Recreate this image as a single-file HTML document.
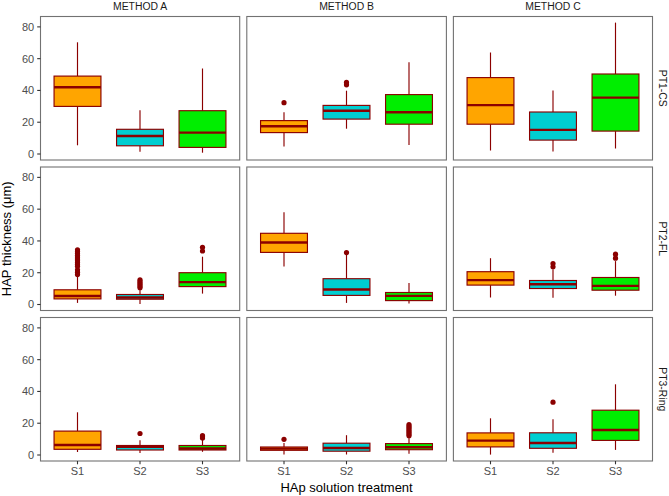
<!DOCTYPE html>
<html><head><meta charset="utf-8"><title>HAP thickness boxplots</title>
<style>html,body{margin:0;padding:0;background:#fff;overflow:hidden}svg{display:block}text{font-family:"Liberation Sans",sans-serif}</style>
</head><body>
<svg width="669" height="496" viewBox="0 0 669 496">
<rect x="0" y="0" width="669" height="496" fill="#fff"/>
<line x1="77.50" y1="42.30" x2="77.50" y2="76.10" stroke="#8B0000" stroke-width="1.15"/>
<line x1="77.50" y1="106.40" x2="77.50" y2="145.30" stroke="#8B0000" stroke-width="1.15"/>
<rect x="54.06" y="76.10" width="46.88" height="30.30" fill="#FFA500" stroke="#8B0000" stroke-width="1.15"/>
<line x1="54.06" y1="87.20" x2="100.94" y2="87.20" stroke="#8B0000" stroke-width="2.4"/>
<line x1="140.00" y1="110.20" x2="140.00" y2="129.30" stroke="#8B0000" stroke-width="1.15"/>
<line x1="140.00" y1="145.80" x2="140.00" y2="151.80" stroke="#8B0000" stroke-width="1.15"/>
<rect x="116.56" y="129.30" width="46.88" height="16.50" fill="#00CED1" stroke="#8B0000" stroke-width="1.15"/>
<line x1="116.56" y1="136.00" x2="163.44" y2="136.00" stroke="#8B0000" stroke-width="2.4"/>
<line x1="202.50" y1="68.50" x2="202.50" y2="110.70" stroke="#8B0000" stroke-width="1.15"/>
<line x1="202.50" y1="147.40" x2="202.50" y2="152.70" stroke="#8B0000" stroke-width="1.15"/>
<rect x="179.06" y="110.70" width="46.88" height="36.70" fill="#00EE00" stroke="#8B0000" stroke-width="1.15"/>
<line x1="179.06" y1="132.60" x2="225.94" y2="132.60" stroke="#8B0000" stroke-width="2.4"/>
<line x1="284.00" y1="112.30" x2="284.00" y2="120.60" stroke="#8B0000" stroke-width="1.15"/>
<line x1="284.00" y1="132.60" x2="284.00" y2="146.60" stroke="#8B0000" stroke-width="1.15"/>
<rect x="260.56" y="120.60" width="46.88" height="12.00" fill="#FFA500" stroke="#8B0000" stroke-width="1.15"/>
<line x1="260.56" y1="126.30" x2="307.44" y2="126.30" stroke="#8B0000" stroke-width="2.4"/>
<circle cx="284.00" cy="102.70" r="2.6" fill="#8B0000"/>
<line x1="346.50" y1="90.70" x2="346.50" y2="105.40" stroke="#8B0000" stroke-width="1.15"/>
<line x1="346.50" y1="119.10" x2="346.50" y2="128.70" stroke="#8B0000" stroke-width="1.15"/>
<rect x="323.06" y="105.40" width="46.88" height="13.70" fill="#00CED1" stroke="#8B0000" stroke-width="1.15"/>
<line x1="323.06" y1="110.80" x2="369.94" y2="110.80" stroke="#8B0000" stroke-width="2.4"/>
<circle cx="346.50" cy="82.40" r="2.6" fill="#8B0000"/>
<circle cx="346.50" cy="84.80" r="2.6" fill="#8B0000"/>
<line x1="409.00" y1="62.30" x2="409.00" y2="94.60" stroke="#8B0000" stroke-width="1.15"/>
<line x1="409.00" y1="124.20" x2="409.00" y2="145.10" stroke="#8B0000" stroke-width="1.15"/>
<rect x="385.56" y="94.60" width="46.88" height="29.60" fill="#00EE00" stroke="#8B0000" stroke-width="1.15"/>
<line x1="385.56" y1="112.30" x2="432.44" y2="112.30" stroke="#8B0000" stroke-width="2.4"/>
<line x1="490.50" y1="52.50" x2="490.50" y2="77.60" stroke="#8B0000" stroke-width="1.15"/>
<line x1="490.50" y1="124.20" x2="490.50" y2="150.50" stroke="#8B0000" stroke-width="1.15"/>
<rect x="467.06" y="77.60" width="46.88" height="46.60" fill="#FFA500" stroke="#8B0000" stroke-width="1.15"/>
<line x1="467.06" y1="105.10" x2="513.94" y2="105.10" stroke="#8B0000" stroke-width="2.4"/>
<line x1="553.00" y1="90.40" x2="553.00" y2="112.00" stroke="#8B0000" stroke-width="1.15"/>
<line x1="553.00" y1="140.10" x2="553.00" y2="151.40" stroke="#8B0000" stroke-width="1.15"/>
<rect x="529.56" y="112.00" width="46.88" height="28.10" fill="#00CED1" stroke="#8B0000" stroke-width="1.15"/>
<line x1="529.56" y1="129.90" x2="576.44" y2="129.90" stroke="#8B0000" stroke-width="2.4"/>
<line x1="615.50" y1="22.60" x2="615.50" y2="74.00" stroke="#8B0000" stroke-width="1.15"/>
<line x1="615.50" y1="131.10" x2="615.50" y2="148.50" stroke="#8B0000" stroke-width="1.15"/>
<rect x="592.06" y="74.00" width="46.88" height="57.10" fill="#00EE00" stroke="#8B0000" stroke-width="1.15"/>
<line x1="592.06" y1="97.60" x2="638.94" y2="97.60" stroke="#8B0000" stroke-width="2.4"/>
<line x1="77.50" y1="277.00" x2="77.50" y2="289.80" stroke="#8B0000" stroke-width="1.15"/>
<line x1="77.50" y1="298.90" x2="77.50" y2="302.90" stroke="#8B0000" stroke-width="1.15"/>
<rect x="54.06" y="289.80" width="46.88" height="9.10" fill="#FFA500" stroke="#8B0000" stroke-width="1.15"/>
<line x1="54.06" y1="296.00" x2="100.94" y2="296.00" stroke="#8B0000" stroke-width="2.4"/>
<circle cx="77.50" cy="249.80" r="2.6" fill="#8B0000"/>
<circle cx="77.50" cy="251.62" r="2.6" fill="#8B0000"/>
<circle cx="77.50" cy="253.44" r="2.6" fill="#8B0000"/>
<circle cx="77.50" cy="255.27" r="2.6" fill="#8B0000"/>
<circle cx="77.50" cy="257.09" r="2.6" fill="#8B0000"/>
<circle cx="77.50" cy="258.91" r="2.6" fill="#8B0000"/>
<circle cx="77.50" cy="260.73" r="2.6" fill="#8B0000"/>
<circle cx="77.50" cy="262.56" r="2.6" fill="#8B0000"/>
<circle cx="77.50" cy="264.38" r="2.6" fill="#8B0000"/>
<circle cx="77.50" cy="266.20" r="2.6" fill="#8B0000"/>
<circle cx="77.50" cy="269.80" r="2.6" fill="#8B0000"/>
<circle cx="77.50" cy="272.20" r="2.6" fill="#8B0000"/>
<circle cx="77.50" cy="274.60" r="2.6" fill="#8B0000"/>
<line x1="140.00" y1="290.20" x2="140.00" y2="294.50" stroke="#8B0000" stroke-width="1.15"/>
<line x1="140.00" y1="299.20" x2="140.00" y2="303.90" stroke="#8B0000" stroke-width="1.15"/>
<rect x="116.56" y="294.50" width="46.88" height="4.70" fill="#00CED1" stroke="#8B0000" stroke-width="1.15"/>
<line x1="116.56" y1="297.50" x2="163.44" y2="297.50" stroke="#8B0000" stroke-width="2.4"/>
<circle cx="140.00" cy="279.80" r="2.6" fill="#8B0000"/>
<circle cx="140.00" cy="281.40" r="2.6" fill="#8B0000"/>
<circle cx="140.00" cy="283.00" r="2.6" fill="#8B0000"/>
<circle cx="140.00" cy="284.60" r="2.6" fill="#8B0000"/>
<circle cx="140.00" cy="286.20" r="2.6" fill="#8B0000"/>
<circle cx="140.00" cy="287.80" r="2.6" fill="#8B0000"/>
<line x1="202.50" y1="256.70" x2="202.50" y2="272.70" stroke="#8B0000" stroke-width="1.15"/>
<line x1="202.50" y1="286.60" x2="202.50" y2="293.60" stroke="#8B0000" stroke-width="1.15"/>
<rect x="179.06" y="272.70" width="46.88" height="13.90" fill="#00EE00" stroke="#8B0000" stroke-width="1.15"/>
<line x1="179.06" y1="282.10" x2="225.94" y2="282.10" stroke="#8B0000" stroke-width="2.4"/>
<circle cx="202.50" cy="247.30" r="2.6" fill="#8B0000"/>
<circle cx="202.50" cy="251.00" r="2.6" fill="#8B0000"/>
<line x1="284.00" y1="212.30" x2="284.00" y2="233.30" stroke="#8B0000" stroke-width="1.15"/>
<line x1="284.00" y1="252.40" x2="284.00" y2="266.60" stroke="#8B0000" stroke-width="1.15"/>
<rect x="260.56" y="233.30" width="46.88" height="19.10" fill="#FFA500" stroke="#8B0000" stroke-width="1.15"/>
<line x1="260.56" y1="242.50" x2="307.44" y2="242.50" stroke="#8B0000" stroke-width="2.4"/>
<line x1="346.50" y1="254.50" x2="346.50" y2="278.70" stroke="#8B0000" stroke-width="1.15"/>
<line x1="346.50" y1="295.40" x2="346.50" y2="302.90" stroke="#8B0000" stroke-width="1.15"/>
<rect x="323.06" y="278.70" width="46.88" height="16.70" fill="#00CED1" stroke="#8B0000" stroke-width="1.15"/>
<line x1="323.06" y1="289.50" x2="369.94" y2="289.50" stroke="#8B0000" stroke-width="2.4"/>
<circle cx="346.50" cy="252.60" r="2.6" fill="#8B0000"/>
<line x1="409.00" y1="283.10" x2="409.00" y2="292.50" stroke="#8B0000" stroke-width="1.15"/>
<line x1="409.00" y1="300.60" x2="409.00" y2="303.50" stroke="#8B0000" stroke-width="1.15"/>
<rect x="385.56" y="292.50" width="46.88" height="8.10" fill="#00EE00" stroke="#8B0000" stroke-width="1.15"/>
<line x1="385.56" y1="295.90" x2="432.44" y2="295.90" stroke="#8B0000" stroke-width="2.4"/>
<line x1="490.50" y1="258.20" x2="490.50" y2="271.70" stroke="#8B0000" stroke-width="1.15"/>
<line x1="490.50" y1="285.10" x2="490.50" y2="297.50" stroke="#8B0000" stroke-width="1.15"/>
<rect x="467.06" y="271.70" width="46.88" height="13.40" fill="#FFA500" stroke="#8B0000" stroke-width="1.15"/>
<line x1="467.06" y1="280.10" x2="513.94" y2="280.10" stroke="#8B0000" stroke-width="2.4"/>
<line x1="553.00" y1="269.60" x2="553.00" y2="280.50" stroke="#8B0000" stroke-width="1.15"/>
<line x1="553.00" y1="288.50" x2="553.00" y2="297.80" stroke="#8B0000" stroke-width="1.15"/>
<rect x="529.56" y="280.50" width="46.88" height="8.00" fill="#00CED1" stroke="#8B0000" stroke-width="1.15"/>
<line x1="529.56" y1="284.30" x2="576.44" y2="284.30" stroke="#8B0000" stroke-width="2.4"/>
<circle cx="553.00" cy="263.60" r="2.6" fill="#8B0000"/>
<circle cx="553.00" cy="266.80" r="2.6" fill="#8B0000"/>
<line x1="615.50" y1="261.10" x2="615.50" y2="277.50" stroke="#8B0000" stroke-width="1.15"/>
<line x1="615.50" y1="290.20" x2="615.50" y2="295.70" stroke="#8B0000" stroke-width="1.15"/>
<rect x="592.06" y="277.50" width="46.88" height="12.70" fill="#00EE00" stroke="#8B0000" stroke-width="1.15"/>
<line x1="592.06" y1="285.90" x2="638.94" y2="285.90" stroke="#8B0000" stroke-width="2.4"/>
<circle cx="615.50" cy="254.20" r="2.6" fill="#8B0000"/>
<circle cx="615.50" cy="258.20" r="2.6" fill="#8B0000"/>
<line x1="77.50" y1="412.30" x2="77.50" y2="431.10" stroke="#8B0000" stroke-width="1.15"/>
<line x1="77.50" y1="449.30" x2="77.50" y2="452.00" stroke="#8B0000" stroke-width="1.15"/>
<rect x="54.06" y="431.10" width="46.88" height="18.20" fill="#FFA500" stroke="#8B0000" stroke-width="1.15"/>
<line x1="54.06" y1="445.00" x2="100.94" y2="445.00" stroke="#8B0000" stroke-width="2.4"/>
<line x1="140.00" y1="440.20" x2="140.00" y2="445.50" stroke="#8B0000" stroke-width="1.15"/>
<line x1="140.00" y1="450.00" x2="140.00" y2="453.00" stroke="#8B0000" stroke-width="1.15"/>
<rect x="116.56" y="445.50" width="46.88" height="4.50" fill="#00CED1" stroke="#8B0000" stroke-width="1.15"/>
<line x1="116.56" y1="446.80" x2="163.44" y2="446.80" stroke="#8B0000" stroke-width="2.4"/>
<circle cx="140.00" cy="433.50" r="2.6" fill="#8B0000"/>
<line x1="202.50" y1="440.00" x2="202.50" y2="445.50" stroke="#8B0000" stroke-width="1.15"/>
<line x1="202.50" y1="450.00" x2="202.50" y2="451.80" stroke="#8B0000" stroke-width="1.15"/>
<rect x="179.06" y="445.50" width="46.88" height="4.50" fill="#00EE00" stroke="#8B0000" stroke-width="1.15"/>
<line x1="179.06" y1="448.50" x2="225.94" y2="448.50" stroke="#8B0000" stroke-width="2.4"/>
<circle cx="202.50" cy="435.70" r="2.6" fill="#8B0000"/>
<circle cx="202.50" cy="436.80" r="2.6" fill="#8B0000"/>
<circle cx="202.50" cy="438.00" r="2.6" fill="#8B0000"/>
<line x1="284.00" y1="443.00" x2="284.00" y2="447.00" stroke="#8B0000" stroke-width="1.15"/>
<line x1="284.00" y1="450.30" x2="284.00" y2="454.60" stroke="#8B0000" stroke-width="1.15"/>
<rect x="260.56" y="447.00" width="46.88" height="3.30" fill="#FFA500" stroke="#8B0000" stroke-width="1.15"/>
<line x1="260.56" y1="448.60" x2="307.44" y2="448.60" stroke="#8B0000" stroke-width="2.4"/>
<circle cx="284.00" cy="439.30" r="2.6" fill="#8B0000"/>
<line x1="346.50" y1="435.20" x2="346.50" y2="443.20" stroke="#8B0000" stroke-width="1.15"/>
<line x1="346.50" y1="451.20" x2="346.50" y2="454.50" stroke="#8B0000" stroke-width="1.15"/>
<rect x="323.06" y="443.20" width="46.88" height="8.00" fill="#00CED1" stroke="#8B0000" stroke-width="1.15"/>
<line x1="323.06" y1="448.00" x2="369.94" y2="448.00" stroke="#8B0000" stroke-width="2.4"/>
<line x1="409.00" y1="438.20" x2="409.00" y2="443.60" stroke="#8B0000" stroke-width="1.15"/>
<line x1="409.00" y1="449.70" x2="409.00" y2="453.80" stroke="#8B0000" stroke-width="1.15"/>
<rect x="385.56" y="443.60" width="46.88" height="6.10" fill="#00EE00" stroke="#8B0000" stroke-width="1.15"/>
<line x1="385.56" y1="447.30" x2="432.44" y2="447.30" stroke="#8B0000" stroke-width="2.4"/>
<circle cx="409.00" cy="424.60" r="2.6" fill="#8B0000"/>
<circle cx="409.00" cy="426.20" r="2.6" fill="#8B0000"/>
<circle cx="409.00" cy="427.80" r="2.6" fill="#8B0000"/>
<circle cx="409.00" cy="429.40" r="2.6" fill="#8B0000"/>
<circle cx="409.00" cy="431.00" r="2.6" fill="#8B0000"/>
<circle cx="409.00" cy="432.60" r="2.6" fill="#8B0000"/>
<circle cx="409.00" cy="434.20" r="2.6" fill="#8B0000"/>
<circle cx="409.00" cy="435.80" r="2.6" fill="#8B0000"/>
<line x1="490.50" y1="418.30" x2="490.50" y2="432.90" stroke="#8B0000" stroke-width="1.15"/>
<line x1="490.50" y1="446.90" x2="490.50" y2="454.60" stroke="#8B0000" stroke-width="1.15"/>
<rect x="467.06" y="432.90" width="46.88" height="14.00" fill="#FFA500" stroke="#8B0000" stroke-width="1.15"/>
<line x1="467.06" y1="440.60" x2="513.94" y2="440.60" stroke="#8B0000" stroke-width="2.4"/>
<line x1="553.00" y1="419.20" x2="553.00" y2="432.80" stroke="#8B0000" stroke-width="1.15"/>
<line x1="553.00" y1="448.30" x2="553.00" y2="452.80" stroke="#8B0000" stroke-width="1.15"/>
<rect x="529.56" y="432.80" width="46.88" height="15.50" fill="#00CED1" stroke="#8B0000" stroke-width="1.15"/>
<line x1="529.56" y1="443.00" x2="576.44" y2="443.00" stroke="#8B0000" stroke-width="2.4"/>
<circle cx="553.00" cy="402.20" r="2.6" fill="#8B0000"/>
<line x1="615.50" y1="384.30" x2="615.50" y2="410.20" stroke="#8B0000" stroke-width="1.15"/>
<line x1="615.50" y1="440.40" x2="615.50" y2="449.90" stroke="#8B0000" stroke-width="1.15"/>
<rect x="592.06" y="410.20" width="46.88" height="30.20" fill="#00EE00" stroke="#8B0000" stroke-width="1.15"/>
<line x1="592.06" y1="430.00" x2="638.94" y2="430.00" stroke="#8B0000" stroke-width="2.4"/>
<rect x="40.5" y="16.5" width="199.20" height="143.50" fill="none" stroke="#727272" stroke-width="1.1"/>
<rect x="246.8" y="16.5" width="199.60" height="143.50" fill="none" stroke="#727272" stroke-width="1.1"/>
<rect x="453.4" y="16.5" width="199.10" height="143.50" fill="none" stroke="#727272" stroke-width="1.1"/>
<rect x="40.5" y="167.0" width="199.20" height="143.50" fill="none" stroke="#727272" stroke-width="1.1"/>
<rect x="246.8" y="167.0" width="199.60" height="143.50" fill="none" stroke="#727272" stroke-width="1.1"/>
<rect x="453.4" y="167.0" width="199.10" height="143.50" fill="none" stroke="#727272" stroke-width="1.1"/>
<rect x="40.5" y="317.5" width="199.20" height="143.50" fill="none" stroke="#727272" stroke-width="1.1"/>
<rect x="246.8" y="317.5" width="199.60" height="143.50" fill="none" stroke="#727272" stroke-width="1.1"/>
<rect x="453.4" y="317.5" width="199.10" height="143.50" fill="none" stroke="#727272" stroke-width="1.1"/>
<line x1="37.20" y1="154.00" x2="40.50" y2="154.00" stroke="#333333" stroke-width="1.1"/>
<text x="34.2" y="157.94" text-anchor="end" font-family="Liberation Sans" font-size="11.0" fill="#4D4D4D">0</text>
<line x1="37.20" y1="122.22" x2="40.50" y2="122.22" stroke="#333333" stroke-width="1.1"/>
<text x="34.2" y="126.16" text-anchor="end" font-family="Liberation Sans" font-size="11.0" fill="#4D4D4D">20</text>
<line x1="37.20" y1="90.44" x2="40.50" y2="90.44" stroke="#333333" stroke-width="1.1"/>
<text x="34.2" y="94.38" text-anchor="end" font-family="Liberation Sans" font-size="11.0" fill="#4D4D4D">40</text>
<line x1="37.20" y1="58.66" x2="40.50" y2="58.66" stroke="#333333" stroke-width="1.1"/>
<text x="34.2" y="62.60" text-anchor="end" font-family="Liberation Sans" font-size="11.0" fill="#4D4D4D">60</text>
<line x1="37.20" y1="26.88" x2="40.50" y2="26.88" stroke="#333333" stroke-width="1.1"/>
<text x="34.2" y="30.82" text-anchor="end" font-family="Liberation Sans" font-size="11.0" fill="#4D4D4D">80</text>
<line x1="37.20" y1="304.50" x2="40.50" y2="304.50" stroke="#333333" stroke-width="1.1"/>
<text x="34.2" y="308.44" text-anchor="end" font-family="Liberation Sans" font-size="11.0" fill="#4D4D4D">0</text>
<line x1="37.20" y1="272.72" x2="40.50" y2="272.72" stroke="#333333" stroke-width="1.1"/>
<text x="34.2" y="276.66" text-anchor="end" font-family="Liberation Sans" font-size="11.0" fill="#4D4D4D">20</text>
<line x1="37.20" y1="240.94" x2="40.50" y2="240.94" stroke="#333333" stroke-width="1.1"/>
<text x="34.2" y="244.88" text-anchor="end" font-family="Liberation Sans" font-size="11.0" fill="#4D4D4D">40</text>
<line x1="37.20" y1="209.16" x2="40.50" y2="209.16" stroke="#333333" stroke-width="1.1"/>
<text x="34.2" y="213.10" text-anchor="end" font-family="Liberation Sans" font-size="11.0" fill="#4D4D4D">60</text>
<line x1="37.20" y1="177.38" x2="40.50" y2="177.38" stroke="#333333" stroke-width="1.1"/>
<text x="34.2" y="181.32" text-anchor="end" font-family="Liberation Sans" font-size="11.0" fill="#4D4D4D">80</text>
<line x1="37.20" y1="455.00" x2="40.50" y2="455.00" stroke="#333333" stroke-width="1.1"/>
<text x="34.2" y="458.94" text-anchor="end" font-family="Liberation Sans" font-size="11.0" fill="#4D4D4D">0</text>
<line x1="37.20" y1="423.22" x2="40.50" y2="423.22" stroke="#333333" stroke-width="1.1"/>
<text x="34.2" y="427.16" text-anchor="end" font-family="Liberation Sans" font-size="11.0" fill="#4D4D4D">20</text>
<line x1="37.20" y1="391.44" x2="40.50" y2="391.44" stroke="#333333" stroke-width="1.1"/>
<text x="34.2" y="395.38" text-anchor="end" font-family="Liberation Sans" font-size="11.0" fill="#4D4D4D">40</text>
<line x1="37.20" y1="359.66" x2="40.50" y2="359.66" stroke="#333333" stroke-width="1.1"/>
<text x="34.2" y="363.60" text-anchor="end" font-family="Liberation Sans" font-size="11.0" fill="#4D4D4D">60</text>
<line x1="37.20" y1="327.88" x2="40.50" y2="327.88" stroke="#333333" stroke-width="1.1"/>
<text x="34.2" y="331.82" text-anchor="end" font-family="Liberation Sans" font-size="11.0" fill="#4D4D4D">80</text>
<line x1="77.50" y1="461.00" x2="77.50" y2="464.30" stroke="#333333" stroke-width="1.1"/>
<text x="77.50" y="474.6" text-anchor="middle" font-family="Liberation Sans" font-size="11.0" fill="#4D4D4D">S1</text>
<line x1="140.00" y1="461.00" x2="140.00" y2="464.30" stroke="#333333" stroke-width="1.1"/>
<text x="140.00" y="474.6" text-anchor="middle" font-family="Liberation Sans" font-size="11.0" fill="#4D4D4D">S2</text>
<line x1="202.50" y1="461.00" x2="202.50" y2="464.30" stroke="#333333" stroke-width="1.1"/>
<text x="202.50" y="474.6" text-anchor="middle" font-family="Liberation Sans" font-size="11.0" fill="#4D4D4D">S3</text>
<line x1="284.00" y1="461.00" x2="284.00" y2="464.30" stroke="#333333" stroke-width="1.1"/>
<text x="284.00" y="474.6" text-anchor="middle" font-family="Liberation Sans" font-size="11.0" fill="#4D4D4D">S1</text>
<line x1="346.50" y1="461.00" x2="346.50" y2="464.30" stroke="#333333" stroke-width="1.1"/>
<text x="346.50" y="474.6" text-anchor="middle" font-family="Liberation Sans" font-size="11.0" fill="#4D4D4D">S2</text>
<line x1="409.00" y1="461.00" x2="409.00" y2="464.30" stroke="#333333" stroke-width="1.1"/>
<text x="409.00" y="474.6" text-anchor="middle" font-family="Liberation Sans" font-size="11.0" fill="#4D4D4D">S3</text>
<line x1="490.50" y1="461.00" x2="490.50" y2="464.30" stroke="#333333" stroke-width="1.1"/>
<text x="490.50" y="474.6" text-anchor="middle" font-family="Liberation Sans" font-size="11.0" fill="#4D4D4D">S1</text>
<line x1="553.00" y1="461.00" x2="553.00" y2="464.30" stroke="#333333" stroke-width="1.1"/>
<text x="553.00" y="474.6" text-anchor="middle" font-family="Liberation Sans" font-size="11.0" fill="#4D4D4D">S2</text>
<line x1="615.50" y1="461.00" x2="615.50" y2="464.30" stroke="#333333" stroke-width="1.1"/>
<text x="615.50" y="474.6" text-anchor="middle" font-family="Liberation Sans" font-size="11.0" fill="#4D4D4D">S3</text>
<text transform="translate(140.10,10.1) scale(1.04,1)" x="0" y="0" text-anchor="middle" font-family="Liberation Sans" font-size="10.0" fill="#1A1A1A">METHOD A</text>
<text transform="translate(346.60,10.1) scale(1.04,1)" x="0" y="0" text-anchor="middle" font-family="Liberation Sans" font-size="10.0" fill="#1A1A1A">METHOD B</text>
<text transform="translate(552.95,10.1) scale(1.04,1)" x="0" y="0" text-anchor="middle" font-family="Liberation Sans" font-size="10.0" fill="#1A1A1A">METHOD C</text>
<text transform="translate(659.0,88.25) rotate(90) scale(1.04,1)" x="0" y="0" text-anchor="middle" font-family="Liberation Sans" font-size="10.0" fill="#1A1A1A">PT1-CS</text>
<text transform="translate(659.0,238.75) rotate(90) scale(1.04,1)" x="0" y="0" text-anchor="middle" font-family="Liberation Sans" font-size="10.0" fill="#1A1A1A">PT2-FL</text>
<text transform="translate(659.0,389.25) rotate(90) scale(1.04,1)" x="0" y="0" text-anchor="middle" font-family="Liberation Sans" font-size="10.0" fill="#1A1A1A">PT3-Ring</text>
<text x="346.6" y="492.0" text-anchor="middle" font-family="Liberation Sans" font-size="13.0" fill="#000">HAp solution treatment</text>
<text transform="translate(11.0,238.75) rotate(-90)" x="0" y="0" text-anchor="middle" font-family="Liberation Sans" font-size="13.0" fill="#000">HAP thickness (μm)</text>
</svg>
</body></html>
